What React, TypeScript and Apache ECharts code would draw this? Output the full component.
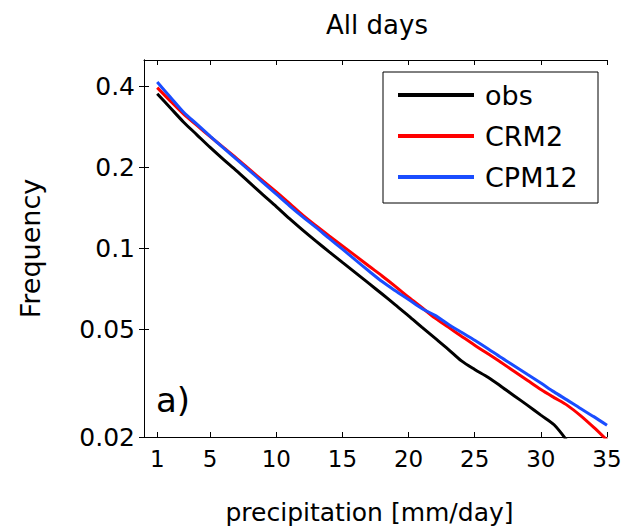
import React, { useEffect, useRef } from 'react';
import * as echarts from 'echarts';

const precip = [1, 2, 3, 4, 5, 6, 7, 8, 9, 10, 11, 12, 13, 14, 15, 16, 17, 18, 19, 20, 21, 22, 23, 24, 25, 26, 27, 28, 29, 30, 31, 32, 33, 34, 35];
const obs = [0.375, 0.332, 0.294, 0.264, 0.237, 0.214, 0.194, 0.175, 0.158, 0.143, 0.129, 0.117, 0.1065, 0.0972, 0.0888, 0.0812, 0.0742, 0.0678, 0.0618, 0.0563, 0.0511, 0.0465, 0.0423, 0.0383, 0.0356, 0.0333, 0.0308, 0.0284, 0.0262, 0.0241, 0.0222, 0.0193];
const crm2 = [0.395, 0.352, 0.315, 0.286, 0.26, 0.237, 0.216, 0.196, 0.178, 0.162, 0.147, 0.133, 0.1215, 0.1114, 0.1023, 0.0939, 0.0861, 0.0791, 0.0724, 0.066, 0.0604, 0.0552, 0.0511, 0.0473, 0.0438, 0.0407, 0.0378, 0.035, 0.0324, 0.03, 0.028, 0.0262, 0.024, 0.0217, 0.0195];
const cpm12 = [0.414, 0.364, 0.32, 0.289, 0.261, 0.236, 0.214, 0.194, 0.1755, 0.159, 0.144, 0.131, 0.1197, 0.109, 0.0994, 0.0905, 0.0825, 0.0754, 0.0697, 0.0647, 0.0599, 0.0565, 0.0524, 0.0489, 0.0457, 0.0425, 0.0394, 0.0367, 0.0341, 0.0317, 0.0294, 0.0274, 0.0255, 0.0238, 0.0221];
const seriesNames = ['obs', 'CRM2', 'CPM12'];
const seriesColors = ['#000000', '#ff0000', '#1a4dff'];
const xTicks = [1, 5, 10, 15, 20, 25, 30, 35];
const yTicks = [0.02, 0.05, 0.1, 0.2, 0.4];

const FONT = "'DejaVu Sans', 'Liberation Sans', sans-serif";

export default function App() {
  const ref = useRef<HTMLDivElement>(null);
  useEffect(() => {
    if (!ref.current) return;
    const chart = echarts.init(ref.current, null, { renderer: 'svg' });
    const values = [obs, crm2, cpm12];
    const axisLine = { show: true, lineStyle: { color: '#000', width: 1 } };
    const tickStyle = { color: '#000', width: 1 };
    const option: any = {
      animation: false,
      backgroundColor: '#fff',
      grid: { left: 144, right: 18, top: 60, bottom: 88 },
      legend: {
        data: seriesNames,
        orient: 'vertical',
        left: 398,
        top: 80,
        icon: 'rect',
        itemWidth: 76,
        itemHeight: 4,
        itemGap: 11,
        padding: 0,
        selectedMode: false,
        textStyle: { fontSize: 27, fontFamily: FONT, color: '#000', lineHeight: 30, padding: [0, 0, 0, 6] },
      },
      graphic: [
        {
          type: 'rect',
          z: 3,
          shape: { x: 383, y: 72, width: 215, height: 131 },
          style: { fill: '#fff', stroke: '#000', lineWidth: 1 },
        },
        {
          type: 'text',
          z: 5,
          x: 377,
          y: 25,
          style: { text: 'All days', font: `26px ${FONT}`, fill: '#000', align: 'center', verticalAlign: 'middle' },
        },
        {
          type: 'text',
          z: 5,
          x: 156,
          y: 400,
          style: { text: 'a)', font: `34px ${FONT}`, fill: '#000', align: 'left', verticalAlign: 'middle' },
        },
      ],
      xAxis: [
        {
          type: 'value',
          min: 0,
          max: 35,
          position: 'bottom',
          axisLine,
          axisTick: { show: true, inside: true, length: 5, customValues: xTicks, lineStyle: tickStyle },
          axisLabel: { customValues: xTicks, fontSize: 23, fontFamily: FONT, color: '#000', margin: 10 },
          splitLine: { show: false },
          name: 'precipitation [mm/day]',
          nameLocation: 'middle',
          nameGap: 63,
          nameTextStyle: { fontSize: 25, fontFamily: FONT, color: '#000', padding: [0, 12, 0, 0] },
        },
        {
          type: 'value',
          min: 0,
          max: 35,
          position: 'top',
          axisLine,
          axisTick: { show: true, inside: true, length: 5, customValues: xTicks, lineStyle: tickStyle },
          axisLabel: { show: false },
          splitLine: { show: false },
        },
      ],
      yAxis: [
        {
          type: 'log',
          logBase: 10,
          min: 0.02,
          max: 0.5,
          position: 'left',
          axisLine,
          axisTick: { show: true, inside: true, length: 5, customValues: yTicks, lineStyle: tickStyle },
          axisLabel: {
            customValues: yTicks,
            fontSize: 25,
            fontFamily: FONT,
            color: '#000',
            margin: 9,
            formatter: (v: number) => String(+v.toPrecision(2)),
          },
          splitLine: { show: false },
          name: 'Frequency',
          nameLocation: 'middle',
          nameGap: 100,
          nameTextStyle: { fontSize: 27, fontFamily: FONT, color: '#000' },
        },
        {
          type: 'log',
          logBase: 10,
          min: 0.02,
          max: 0.5,
          position: 'right',
          axisLine,
          axisTick: { show: true, inside: true, length: 5, customValues: yTicks, lineStyle: tickStyle },
          axisLabel: { show: false },
          splitLine: { show: false },
        },
      ],
      series: seriesNames.map((name, k) => ({
        name,
        type: 'line',
        xAxisIndex: 0,
        yAxisIndex: 0,
        showSymbol: false,
        symbol: 'none',
        smooth: 0.3,
        clip: true,
        z: 2 + k * 0.01,
        itemStyle: { color: seriesColors[k] },
        lineStyle: { color: seriesColors[k], width: 3 },
        data: values[k].map((y, i) => [precip[i], y]),
      })),
    };
    chart.setOption(option);
    return () => chart.dispose();
  }, []);
  return (
    <div
      ref={ref}
      style={{ position: 'fixed', left: 0, top: 0, width: 625, height: 530, background: '#fff' }}
    />
  );
}
